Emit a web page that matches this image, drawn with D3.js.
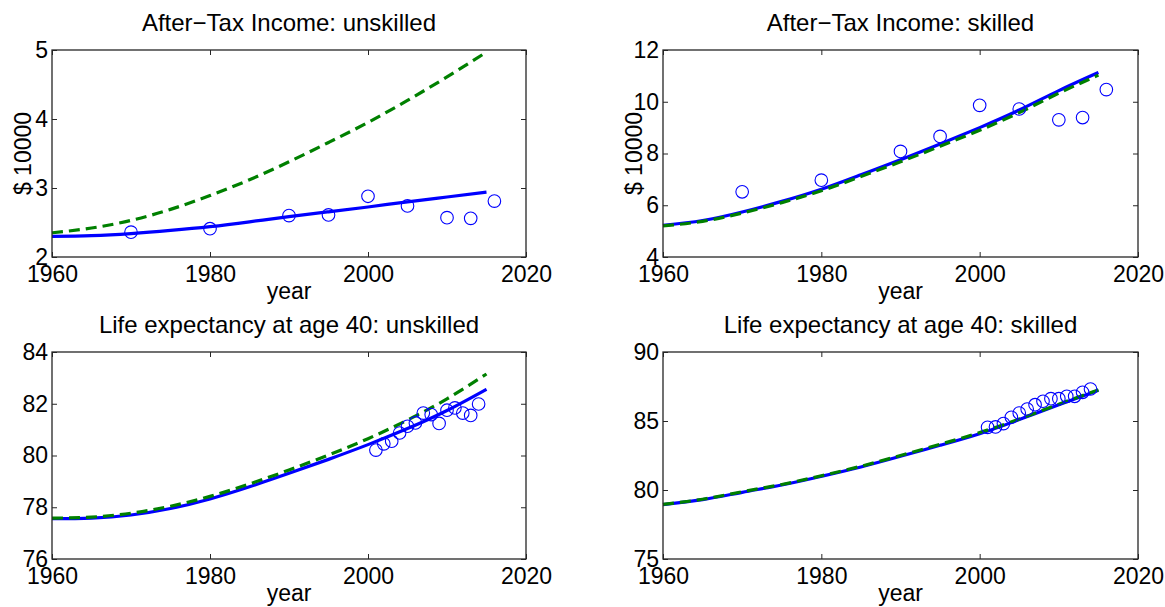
<!DOCTYPE html>
<html>
<head>
<meta charset="utf-8">
<script src="https://cdn.jsdelivr.net/npm/d3@7"></script>
<style>
  html, body { margin: 0; padding: 0; background: #fff; }
  svg { display: block; font-family: "Liberation Sans", Arial, Helvetica, sans-serif; }
</style>
</head>
<body>
<svg id="chart" width="1165" height="607"></svg>
<script>
// ---------------- data ----------------
const lineYears = [1960, 1965, 1970, 1975, 1980, 1985, 1990, 1995, 2000, 2005, 2010, 2015];

// After-tax income, unskilled ($10000)
const incUnskModel   = [2.30, 2.31, 2.34, 2.385, 2.44, 2.51, 2.585, 2.655, 2.725, 2.80, 2.87, 2.94];
const incUnskCounter = [2.35, 2.42, 2.53, 2.69, 2.89, 3.12, 3.38, 3.66, 3.95, 4.27, 4.61, 4.97];
// After-tax income, skilled ($10000)
const incSkModel     = [5.22, 5.41, 5.74, 6.15, 6.62, 7.18, 7.76, 8.37, 9.00, 9.68, 10.43, 11.13];
const incSkCounter   = [5.20, 5.38, 5.70, 6.10, 6.56, 7.11, 7.68, 8.28, 8.90, 9.58, 10.33, 11.03];
// Life expectancy at age 40, unskilled
const lifeUnskModel   = [77.56, 77.58, 77.70, 77.95, 78.32, 78.79, 79.31, 79.85, 80.42, 81.04, 81.74, 82.56];
const lifeUnskCounter = [77.58, 77.62, 77.77, 78.04, 78.42, 78.90, 79.44, 80.02, 80.65, 81.37, 82.19, 83.15];
// Life expectancy at age 40, skilled
const lifeSkModel     = [78.94, 79.30, 79.83, 80.36, 80.99, 81.67, 82.44, 83.24, 84.08, 85.10, 86.18, 87.22];
const lifeSkCounter   = [78.96, 79.33, 79.87, 80.40, 81.03, 81.72, 82.50, 83.31, 84.16, 85.14, 86.22, 87.26];

// observed data points
const incDataYears = [1970, 1980, 1990, 1995, 2000, 2005, 2010, 2013, 2016];
const incUnskData  = [2.36, 2.41, 2.60, 2.61, 2.88, 2.74, 2.57, 2.56, 2.81];
const incSkData    = [6.52, 6.97, 8.08, 8.66, 9.86, 9.72, 9.30, 9.39, 10.47];
const lifeDataYears = [2001, 2002, 2003, 2004, 2005, 2006, 2007, 2008, 2009, 2010, 2011, 2012, 2013, 2014];
const lifeUnskData  = [80.21, 80.45, 80.55, 80.87, 81.13, 81.26, 81.64, 81.58, 81.24, 81.75, 81.84, 81.64, 81.55, 81.99];
const lifeSkData    = [84.54, 84.57, 84.81, 85.27, 85.58, 85.87, 86.18, 86.43, 86.62, 86.62, 86.79, 86.79, 87.08, 87.32];

// axes text
const titles = ["After\u2212Tax Income: unskilled", "After\u2212Tax Income: skilled",
                "Life expectancy at age 40: unskilled", "Life expectancy at age 40: skilled"];
const yLabels = ["$ 10000", "$ 10000", "", ""];
const xLabel = "year";
const xTicks = [1960, 1980, 2000, 2020];
const yTicks1 = [2, 3, 4, 5];
const yTicks2 = [4, 6, 8, 10, 12];
const yTicks3 = [76, 78, 80, 82, 84];
const yTicks4 = [75, 80, 85, 90];

// ---------------- drawing ----------------
const svg = d3.select("#chart");
svg.append("rect").attr("width", 1165).attr("height", 607).attr("fill", "#fff");

const panels = [
  { x0: 52,  x1: 526,  y0: 50,  y1: 257, yTicks: yTicks1, model: incUnskModel,  counter: incUnskCounter,  dx: incDataYears,  dy: incUnskData },
  { x0: 663, x1: 1138, y0: 50,  y1: 257, yTicks: yTicks2, model: incSkModel,    counter: incSkCounter,    dx: incDataYears,  dy: incSkData },
  { x0: 52,  x1: 526,  y0: 352, y1: 559, yTicks: yTicks3, model: lifeUnskModel, counter: lifeUnskCounter, dx: lifeDataYears, dy: lifeUnskData },
  { x0: 663, x1: 1138, y0: 352, y1: 559, yTicks: yTicks4, model: lifeSkModel,   counter: lifeSkCounter,   dx: lifeDataYears, dy: lifeSkData }
];

const FONT = 23;
const TICK = 5;

panels.forEach((p, i) => {
  const x = d3.scaleLinear().domain([xTicks[0], xTicks[xTicks.length - 1]]).range([p.x0, p.x1]);
  const y = d3.scaleLinear().domain([p.yTicks[0], p.yTicks[p.yTicks.length - 1]]).range([p.y1, p.y0]);
  const g = svg.append("g");

  const line = (vals) => d3.line().curve(d3.curveNatural)
      .x((d, k) => x(lineYears[k])).y(d => y(d))(vals);

  g.append("path").attr("d", line(p.model))
    .attr("fill", "none").attr("stroke", "#0000ff").attr("stroke-width", 3.2);
  g.append("path").attr("d", line(p.counter))
    .attr("fill", "none").attr("stroke", "#008000").attr("stroke-width", 3.2)
    .attr("stroke-dasharray", "11,6");

  g.selectAll("circle.obs").data(p.dx).enter().append("circle")
    .attr("class", "obs")
    .attr("cx", d => x(d)).attr("cy", (d, k) => y(p.dy[k])).attr("r", 6.3)
    .attr("fill", "none").attr("stroke", "#0000ff").attr("stroke-width", 1.1);

  // axes (MATLAB-style box with inward ticks)
  const axB = d3.axisBottom(x).tickValues(xTicks).tickFormat(d3.format("d")).tickSize(-TICK).tickPadding(9);
  const axT = d3.axisTop(x).tickValues(xTicks).tickFormat("").tickSize(-TICK);
  const axL = d3.axisLeft(y).tickValues(p.yTicks).tickFormat(d3.format("d")).tickSize(-TICK).tickPadding(4);
  const axR = d3.axisRight(y).tickValues(p.yTicks).tickFormat("").tickSize(-TICK);

  const gb = g.append("g").attr("transform", `translate(0,${p.y1})`).call(axB);
  const gt = g.append("g").attr("transform", `translate(0,${p.y0})`).call(axT);
  const gl = g.append("g").attr("transform", `translate(${p.x0},0)`).call(axL);
  const gr = g.append("g").attr("transform", `translate(${p.x1},0)`).call(axR);
  [gb, gt, gl, gr].forEach(a => {
    a.select(".domain").remove();
    a.selectAll(".tick line").attr("stroke", "#262626").attr("stroke-width", 1);
    a.selectAll(".tick text").attr("fill", "#000").style("font-size", FONT + "px")
      .style("font-family", '"Liberation Sans", Arial, Helvetica, sans-serif');
  });

  g.append("rect").attr("x", p.x0).attr("y", p.y0)
    .attr("width", p.x1 - p.x0).attr("height", p.y1 - p.y0)
    .attr("fill", "none").attr("stroke", "#262626").attr("stroke-width", 1.3);

  // title
  g.append("text").attr("x", (p.x0 + p.x1) / 2).attr("y", p.y0 - 19)
    .attr("text-anchor", "middle").style("font-size", "24px").attr("fill", "#000")
    .text(titles[i]);
  // x label
  g.append("text").attr("x", (p.x0 + p.x1) / 2).attr("y", p.y1 + 42)
    .attr("text-anchor", "middle").style("font-size", "23px").attr("fill", "#000")
    .text(xLabel);
  // y label
  if (yLabels[i]) {
    g.append("text")
      .attr("transform", `translate(${p.x0 - 21},${(p.y0 + p.y1) / 2}) rotate(-90)`)
      .attr("text-anchor", "middle").style("font-size", "23px").attr("fill", "#000")
      .text(yLabels[i]);
  }
});
</script>
</body>
</html>
